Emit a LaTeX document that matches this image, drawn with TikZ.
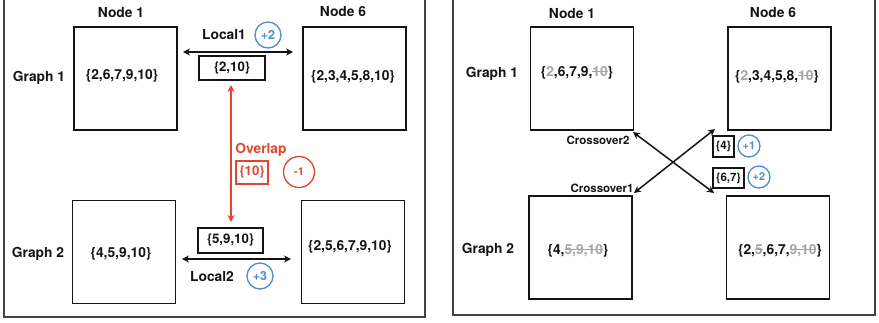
\documentclass[tikz,border=0pt]{standalone}
\usepackage{fontspec}
\setmainfont{TeX Gyre Heros}
\usetikzlibrary{arrows.meta}
\definecolor{fg}{RGB}{20,20,20}
\definecolor{ovred}{RGB}{226,68,48}
\definecolor{gainblue}{RGB}{74,140,216}
\definecolor{lostgray}{RGB}{165,165,165}
\newcommand\gy[1]{{\color{lostgray}#1}}
\newcommand\gs[1]{{\color{lostgray}\setbox0\hbox{#1}\rlap{\rule[0.33em]{\wd0}{0.07em}}\box0}}
\tikzset{
  panel/.style={draw=fg!80, line width=1.5pt},
  setbox/.style={draw=fg, line width=1.7pt, minimum width=103pt, minimum height=103pt, inner sep=0pt},
  lbl/.style={font=\fontsize{13.8}{15}\selectfont\bfseries, text=fg, inner sep=0pt},
  txt/.style={font=\fontsize{13.8}{15}\selectfont\bfseries, text=fg, inner sep=0pt},
  small/.style={font=\fontsize{11.5}{13}\selectfont\bfseries, text=fg, inner sep=0pt},
  tag/.style={draw=fg, line width=1.4pt, font=\fontsize{13.2}{15}\selectfont\bfseries, text=fg, inner sep=0pt},
  gain/.style={circle, draw=gainblue, line width=1.3pt, text=gainblue, font=\fontsize{12.5}{14}\selectfont\bfseries, inner sep=0pt},
  link/.style={draw=fg, line width=1.5pt, {Stealth[length=7pt,width=7pt]}-{Stealth[length=7pt,width=7pt]}},
}
\begin{document}
\begin{tikzpicture}[x=1pt,y=-1pt]
\useasboundingbox (0,0) rectangle (879,322);
\fill[white] (0,0) rectangle (879,322);
% panels
\draw[panel] (4,-2) rectangle (425,317);
\draw[panel] (453,-2) rectangle (875,315);

% ---------- left panel ----------
\node[lbl] (l-n1) at (121,13) {Node 1};
\node[lbl] (l-n6) at (343,12) {Node 6};
\node[lbl] (l-g1) at (39,78) {Graph 1};
\node[lbl] (l-g2) at (38,254) {Graph 2};
\node[setbox] (l-a) at (125.5,78.5) {};
\node[setbox] (l-b) at (354.5,78.5) {};
\node[setbox] (l-c) at (124,252) {};
\node[setbox] (l-d) at (353,252) {};
\node[txt] at (122,76) {\{2,6,7,9,10\}};
\node[txt] at (353,77) {\{2,3,4,5,8,10\}};
\node[txt] at (121,254) {\{4,5,9,10\}};
\node[txt] at (350,247) {\{2,5,6,7,9,10\}};

\coordinate (l1a) at (183,52);
\coordinate (l1b) at (293,52);
\draw[link] (l1a) -- (l1b);
\node[lbl] (loc1) at (224,35) {Local1};
\node[gain, minimum size=26pt] (g1) at (268,35) {+2};
\node[tag, minimum width=66pt, minimum height=24pt] (t1) at (232,68) {\{2,10\}};

\node[tag, minimum width=65pt, minimum height=25pt] (t2) at (230.5,240.5) {\{5,9,10\}};
\coordinate (l2a) at (182,259);
\coordinate (l2b) at (291,259);
\draw[link] (l2a) -- (l2b);
\node[lbl] (loc2) at (212,277) {Local2};
\node[gain, minimum size=26pt] (g3) at (260,276) {+3};

\coordinate (ova) at (231,85);
\coordinate (ovb) at (231,222);
\draw[draw=ovred, line width=1.5pt, {Stealth[length=7pt,width=7pt]}-{Stealth[length=7pt,width=7pt]}, color=ovred] (ova) -- (ovb);
\node[lbl, text=ovred] (ovl) at (261,150) {Overlap};
\node[tag, draw=ovred, text=ovred, minimum width=32pt, minimum height=23pt] (ovt) at (252,172.5) {\{10\}};
\node[circle, draw=ovred, line width=1.3pt, text=ovred, minimum size=31pt, inner sep=0pt, font=\fontsize{11}{13}\selectfont\bfseries] (ovc) at (299,172) {-1};

% ---------- right panel ----------
\node[lbl] (r-n1) at (572,14) {Node 1};
\node[lbl] (r-n6) at (773,13) {Node 6};
\node[lbl] (r-g1) at (492,74) {Graph 1};
\node[lbl] (r-g2) at (488,250) {Graph 2};
\node[setbox] (r-a) at (582,78.5) {};
\node[setbox] (r-b) at (779.5,78.5) {};
\node[setbox] (r-c) at (580.5,247.5) {};
\node[setbox] (r-d) at (778,247.5) {};
\node[txt] at (577,73) {\{\gy{2},6,7,9,\gs{10}\}};
\node[txt] at (777,77) {\{\gy{2},3,4,5,8,\gs{10}\}};
\node[txt] at (578,251) {\{4,\gs{5,9,10}\}};
\node[txt] at (780,251) {\{2,\gs{5},6,7,\gs{9,10}\}};

\coordinate (c1a) at (634,193);
\coordinate (c1b) at (715,129);
\coordinate (c2a) at (633,132);
\coordinate (c2b) at (714,193);
\draw[link] (c1a) -- (c1b);
\draw[link] (c2a) -- (c2b);
\node[small] (cx2) at (598,140) {Crossover2};
\node[small] (cx1) at (602,188) {Crossover1};
\node[tag, font=\fontsize{11.5}{13}\selectfont\bfseries, minimum width=21pt, minimum height=21pt] (t4) at (723.5,146.5) {\{4\}};
\node[gain, minimum size=22pt, font=\fontsize{11}{13}\selectfont\bfseries] (p1) at (749,146) {+1};
\node[tag, font=\fontsize{11.5}{13}\selectfont\bfseries, minimum width=31pt, minimum height=20pt] (t67) at (728.5,178) {\{6,7\}};
\node[gain, minimum size=22pt, font=\fontsize{11}{13}\selectfont\bfseries] (p2) at (759,177) {+2};
\end{tikzpicture}
\end{document}
